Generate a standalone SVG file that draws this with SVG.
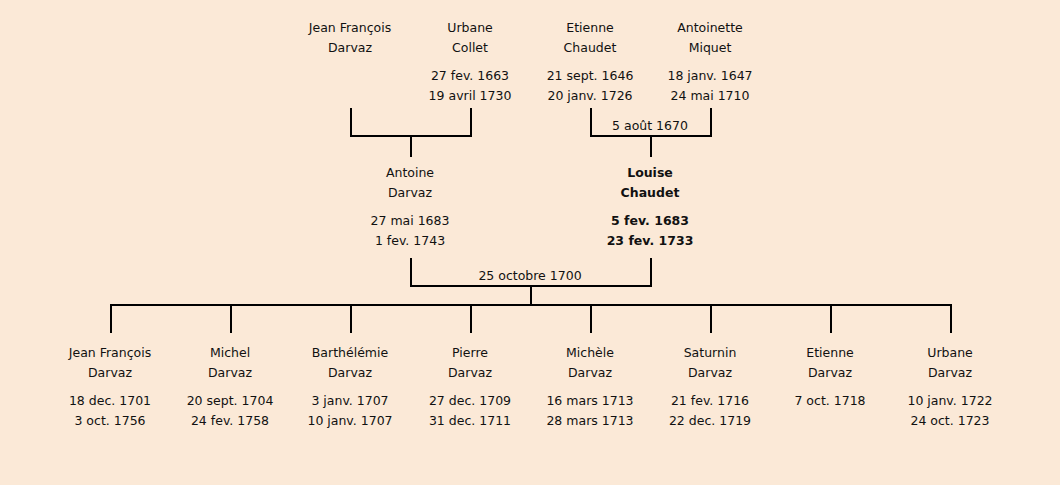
<svg xmlns="http://www.w3.org/2000/svg" width="1060" height="485" viewBox="0 0 1060 485">
<style>
text{font-family:"Comic Sans MS","DejaVu Sans",sans-serif;font-size:12.5px;fill:#111;text-anchor:middle}
.b{font-weight:bold}
.ln{stroke:#000;stroke-width:2;fill:none}
</style>
<rect width="1060" height="485" fill="#fbe9d7"/>
<g id="connectors">
<path class="ln" d="M351,108V136H471V108M411,136V157"/>
<path class="ln" d="M591,108V136H711V108M651,136V157"/>
<path class="ln" d="M411,258V286H651V258M531,286V305"/>
<path class="ln" d="M111,333V305H951V333M231,305V333M351,305V333M471,305V333M591,305V333M711,305V333M831,305V333"/>
<text x="650" y="130">5 août 1670</text>
<text x="530" y="280">25 octobre 1700</text>
</g>
<g id="jean-francois-sr"><text x="350" y="32">Jean François</text><text x="350" y="52">Darvaz</text></g>
<g id="urbane-collet"><text x="470" y="32">Urbane</text><text x="470" y="52">Collet</text><text x="470" y="80">27 fev. 1663</text><text x="470" y="100">19 avril 1730</text></g>
<g id="etienne-chaudet"><text x="590" y="32">Etienne</text><text x="590" y="52">Chaudet</text><text x="590" y="80">21 sept. 1646</text><text x="590" y="100">20 janv. 1726</text></g>
<g id="antoinette-miquet"><text x="710" y="32">Antoinette</text><text x="710" y="52">Miquet</text><text x="710" y="80">18 janv. 1647</text><text x="710" y="100">24 mai 1710</text></g>
<g id="antoine-darvaz"><text x="410" y="177">Antoine</text><text x="410" y="197">Darvaz</text><text x="410" y="225">27 mai 1683</text><text x="410" y="245">1 fev. 1743</text></g>
<g id="louise-chaudet" class="b"><text class="b" x="650" y="177">Louise</text><text class="b" x="650" y="197">Chaudet</text><text class="b" x="650" y="225">5 fev. 1683</text><text class="b" x="650" y="245">23 fev. 1733</text></g>
<g id="child-jean-francois"><text x="110" y="357">Jean François</text><text x="110" y="377">Darvaz</text><text x="110" y="405">18 dec. 1701</text><text x="110" y="425">3 oct. 1756</text></g>
<g id="child-michel"><text x="230" y="357">Michel</text><text x="230" y="377">Darvaz</text><text x="230" y="405">20 sept. 1704</text><text x="230" y="425">24 fev. 1758</text></g>
<g id="child-barthelemie"><text x="350" y="357">Barthélémie</text><text x="350" y="377">Darvaz</text><text x="350" y="405">3 janv. 1707</text><text x="350" y="425">10 janv. 1707</text></g>
<g id="child-pierre"><text x="470" y="357">Pierre</text><text x="470" y="377">Darvaz</text><text x="470" y="405">27 dec. 1709</text><text x="470" y="425">31 dec. 1711</text></g>
<g id="child-michele"><text x="590" y="357">Michèle</text><text x="590" y="377">Darvaz</text><text x="590" y="405">16 mars 1713</text><text x="590" y="425">28 mars 1713</text></g>
<g id="child-saturnin"><text x="710" y="357">Saturnin</text><text x="710" y="377">Darvaz</text><text x="710" y="405">21 fev. 1716</text><text x="710" y="425">22 dec. 1719</text></g>
<g id="child-etienne"><text x="830" y="357">Etienne</text><text x="830" y="377">Darvaz</text><text x="830" y="405">7 oct. 1718</text></g>
<g id="child-urbane"><text x="950" y="357">Urbane</text><text x="950" y="377">Darvaz</text><text x="950" y="405">10 janv. 1722</text><text x="950" y="425">24 oct. 1723</text></g>
</svg>
